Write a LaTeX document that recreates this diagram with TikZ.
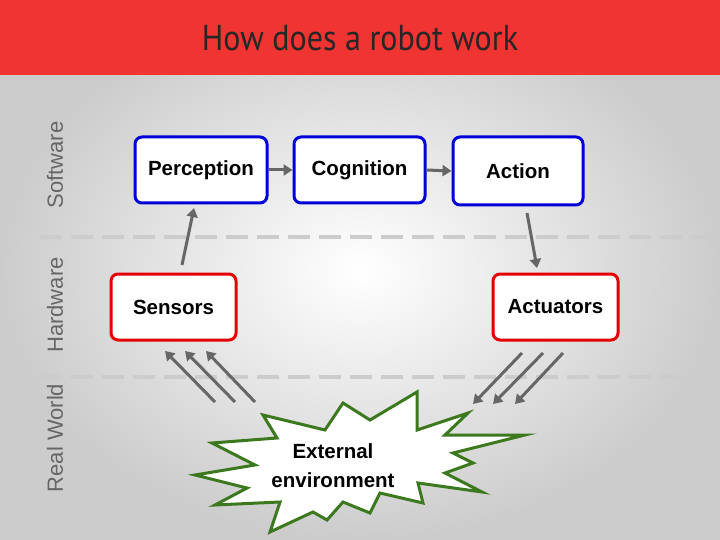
\documentclass[tikz,border=0pt]{standalone}
\usepackage{fontspec}
\setmainfont{Liberation Sans}
\newfontfamily\titlefont{PT Sans}
\usetikzlibrary{arrows.meta}
\begin{document}
\begin{tikzpicture}[x=1pt,y=-1pt,
  box/.style={draw=#1,line width=3pt,rounded corners=7pt,fill=white,inner sep=0pt,font=\bfseries\fontsize{20.5}{24}\selectfont},
  garr/.style={draw=black!60,line width=3pt,-{Triangle[length=9pt,width=11pt]}},
  sep/.style={draw=black!20,line width=4pt,dash pattern=on 22pt off 9pt},
  side/.style={rotate=90,text=black!60,font=\fontsize{22}{25}\selectfont}]
\useasboundingbox (0,0) rectangle (720,540);
\shade[inner color=white,outer color=black!20] (0,0) rectangle (720,540);
\fill[fill={rgb,255:red,240;green,52;blue,50}] (0,0) rectangle (720,75);
\node[font=\titlefont\fontsize{36}{40}\selectfont,xscale=0.89,text=black!85] (title) at (360,38) {How does a robot work};
\draw[sep] (40,237) -- (720,237);
\draw[sep] (40,377) -- (720,377);
\node[side] (sw) at (55,165) {Software};
\node[side] (hw) at (55,305) {Hardware};
\node[side] (rw) at (55,438) {Real World};
\node[box=blue!85!black,minimum width=132pt,minimum height=66pt] (per) at (201,170) {Perception};
\node[box=blue!85!black,minimum width=131pt,minimum height=66pt] (cog) at (359.5,170) {Cognition};
\node[box=blue!85!black,minimum width=130pt,minimum height=68pt] (act) at (518,171) {Action};
\node[box=red!90!black,minimum width=125pt,minimum height=66pt] (sen) at (173.5,307) {Sensors};
\node[box=red!90!black,minimum width=125pt,minimum height=66pt] (actu) at (555.5,307) {Actuators};
\draw[garr] (per.east) -- (cog.west);
\draw[garr] (cog.east) -- (act.west);
\coordinate (s1) at (182,265); \coordinate (p1) at (194,208);
\draw[garr] (s1) -- (p1);
\coordinate (a1) at (527,213); \coordinate (u1) at (537,268);
\draw[garr] (a1) -- (u1);
\coordinate (e1) at (215,402); \coordinate (t1) at (165,351);
\coordinate (e2) at (235,402); \coordinate (t2) at (185,351);
\coordinate (e3) at (255,402); \coordinate (t3) at (206,351);
\draw[garr] (e1) -- (t1); \draw[garr] (e2) -- (t2); \draw[garr] (e3) -- (t3);
\coordinate (f1) at (522,353); \coordinate (g1) at (473,404);
\coordinate (f2) at (543,353); \coordinate (g2) at (493,404);
\coordinate (f3) at (563,353); \coordinate (g3) at (515,404);
\draw[garr] (f1) -- (g1); \draw[garr] (f2) -- (g2); \draw[garr] (f3) -- (g3);
\draw[draw={rgb,255:red,60;green,120;blue,30},line width=3pt,fill=white,line join=miter]
 (263,415) -- (325,430) -- (343,403) -- (370,420) -- (417,392) -- (417,430) -- (468,413) -- (445,435) -- (525,435) -- (453,453) -- (473,463) -- (445,473) -- (482,492) -- (418,483) -- (423,503) -- (380,493) -- (370,513) -- (343,502) -- (327,520) -- (313,512) -- (270,532) -- (280,502) -- (215,505) -- (247,488) -- (195,475) -- (255,465) -- (212,443) -- (277,438) -- cycle;
\node[align=center,font=\bfseries\fontsize{20.5}{29}\selectfont,inner sep=0pt] (env) at (333,466) {External\\environment};
\end{tikzpicture}
\end{document}
